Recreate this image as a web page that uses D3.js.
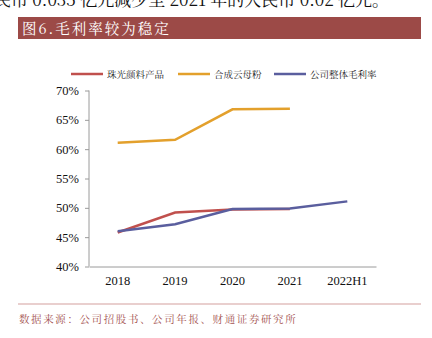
<!DOCTYPE html>
<html>
<head>
<meta charset="utf-8">
<script src="https://cdn.jsdelivr.net/npm/d3@7"></script>
<style>
  body { margin: 0; background: #fff; }
  svg { display: block; }
</style>
</head>
<body>
<div id="plot"></div>
<script>
// Categories and series (gross margin, %)
const years = ["2018", "2019", "2020", "2021", "2022H1"];
const pearlPigment = [45.8, 49.2, 49.7, 49.8, null];
const synthMica = [61.1, 61.6, 66.8, 66.9, null];
const companyTotal = [46.0, 47.2, 49.8, 49.9, 51.1];
const yTicks = [40, 45, 50, 55, 60, 65, 70];

const seriesNames = ["珠光颜料产品", "合成云母粉", "公司整体毛利率"];
const seriesColors = ["#c0504d", "#e3a02c", "#5a5e9e"];
const seriesData = [pearlPigment, synthMica, companyTotal];

const w = 432, h = 338;
const svg = d3.select("#plot").append("svg")
    .attr("width", w)
    .attr("height", h);

const cjk = "'Noto Serif CJK SC','Noto Sans CJK SC',serif";
const serif = "'Liberation Serif','DejaVu Serif',serif";

// Line of body text running off the top edge
svg.append("text")
    .attr("x", -23)
    .attr("y", 6)
    .attr("font-family", cjk)
    .attr("font-size", 17)
    .attr("fill", "#111")
    .text("人民币 0.035 亿元减少至 2021 年的人民币 0.02 亿元。");

// Title bar
svg.append("rect")
    .attr("x", 18).attr("y", 17)
    .attr("width", 403).attr("height", 22)
    .attr("fill", "#9c4a47");
svg.append("text")
    .attr("x", 22).attr("y", 33.5)
    .attr("font-family", cjk)
    .attr("font-size", 14.5)
    .attr("letter-spacing", 2)
    .attr("fill", "#fff")
    .text("图6.毛利率较为稳定");

// Scales
const x = d3.scaleBand().domain(years).range([89, 376]);
const y = d3.scaleLinear().domain([40, 70]).range([266.5, 90.5]);

// Y axis
const yAxis = svg.append("g")
    .attr("transform", "translate(89,0)")
    .call(d3.axisLeft(y).tickValues(yTicks).tickSize(4).tickFormat(d => d + "%"));
yAxis.select(".domain").attr("stroke", "#9a9a9a").attr("d", "M0," + y(40) + "V" + y(70));
yAxis.selectAll(".tick line").attr("stroke", "#9a9a9a");
yAxis.selectAll(".tick text")
    .attr("x", -10)
    .attr("font-family", serif)
    .attr("font-size", 12.5)
    .attr("fill", "#111");

// X axis
const xAxis = svg.append("g")
    .attr("transform", "translate(0," + y(40) + ")")
    .call(d3.axisBottom(x).tickSize(0).tickSizeOuter(0));
xAxis.select(".domain").attr("stroke", "#9a9a9a");
xAxis.selectAll(".tick text")
    .attr("dy", "1.25em")
    .attr("font-family", serif)
    .attr("font-size", 12.5)
    .attr("fill", "#111");

// Lines
const line = d3.line()
    .defined(d => d != null)
    .x((d, i) => x(years[i]) + x.bandwidth() / 2)
    .y(d => y(d));

seriesData.forEach((s, k) => {
    svg.append("path")
        .datum(s)
        .attr("fill", "none")
        .attr("stroke", seriesColors[k])
        .attr("stroke-width", 2.5)
        .attr("d", line);
});

// Legend
const legendX = [71, 178, 274];
seriesNames.forEach((name, k) => {
    const g = svg.append("g").attr("transform", "translate(" + legendX[k] + ",74)");
    g.append("line")
        .attr("x1", 0).attr("x2", 32)
        .attr("stroke", seriesColors[k])
        .attr("stroke-width", 2.5);
    g.append("text")
        .attr("x", 36).attr("y", 3.5)
        .attr("font-family", cjk)
        .attr("font-size", 9.5)
        .attr("fill", "#222")
        .text(name);
});

// Source footer
svg.append("line")
    .attr("x1", 18).attr("x2", 421)
    .attr("y1", 304).attr("y2", 304)
    .attr("stroke", "#d4a09e")
    .attr("stroke-width", 1.2);
svg.append("text")
    .attr("x", 19).attr("y", 323)
    .attr("font-family", cjk)
    .attr("font-size", 10.5)
    .attr("letter-spacing", 1.6)
    .attr("fill", "#a4524f")
    .text("数据来源：公司招股书、公司年报、财通证券研究所");
</script>
</body>
</html>
